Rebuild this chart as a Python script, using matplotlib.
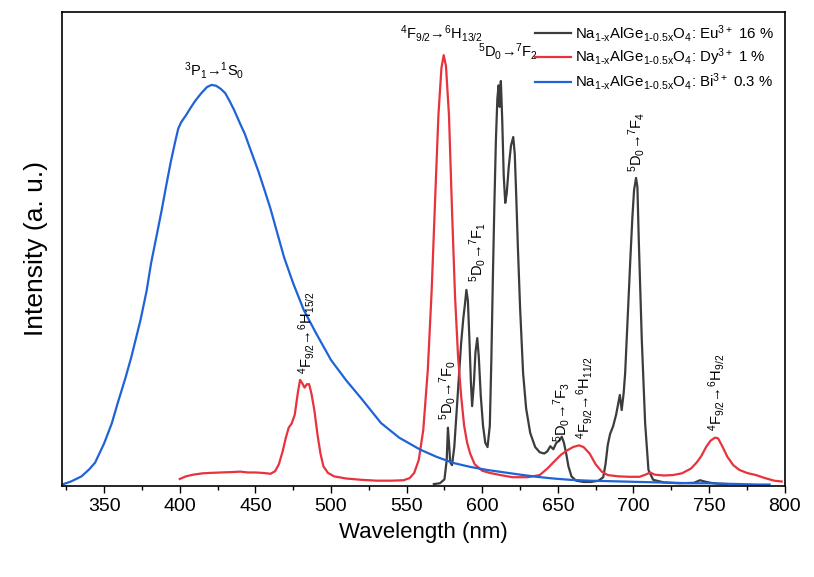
import numpy as np
import matplotlib
matplotlib.use("Agg")
import matplotlib.pyplot as plt
from matplotlib.ticker import MultipleLocator

plt.rcParams['font.family'] = ['Liberation Sans', 'DejaVu Sans']
plt.rcParams['mathtext.default'] = 'regular'

# Bi3+ emission (blue)
wl_bi = [323, 328, 335, 340, 344, 350, 355, 359, 364, 368, 374, 378, 381, 385, 388, 391,
         394, 397, 399, 401, 404, 407, 410, 414, 418, 421, 424, 427, 430, 433, 436, 440,
         443, 447, 452, 456, 460, 465, 469, 475, 482, 490, 500, 510, 520, 533, 545, 559,
         570, 581, 592, 603, 615, 625, 636, 647, 658, 670, 682, 693, 704, 716, 727, 738,
         749, 760, 771, 782, 790]
int_bi = [0.004, 0.010, 0.022, 0.038, 0.054, 0.099, 0.145, 0.193, 0.250, 0.300, 0.385, 0.452,
          0.517, 0.587, 0.640, 0.697, 0.752, 0.800, 0.830, 0.845, 0.860, 0.877, 0.893, 0.911,
          0.926, 0.931, 0.929, 0.922, 0.912, 0.893, 0.872, 0.840, 0.817, 0.778, 0.730, 0.687,
          0.643, 0.580, 0.530, 0.470, 0.408, 0.355, 0.292, 0.245, 0.203, 0.146, 0.112, 0.084,
          0.067, 0.053, 0.044, 0.037, 0.031, 0.026, 0.021, 0.017, 0.014, 0.012, 0.011, 0.010,
          0.009, 0.008, 0.007, 0.006, 0.006, 0.005, 0.004, 0.003, 0.003]

# Dy3+ emission (red)
wl_dy = [400, 404, 409, 415, 420, 427, 435, 440, 445, 450, 455, 460, 463, 465.5, 468, 470,
         472, 474, 476, 478, 479.5, 481, 482.5, 484, 485.5, 487, 489, 491, 493, 495, 498,
         502, 510, 520, 530, 540, 548, 552, 555, 558, 561, 564, 566.5, 569, 571, 573, 574.5,
         576, 578, 580, 582, 584, 586, 588, 590, 592, 595, 600, 605, 612, 620, 630, 638,
         643, 648, 652, 656, 660, 664, 667, 671, 675, 679, 683, 690, 697, 704, 708, 711,
         714, 720, 726, 732, 738, 742, 745, 748, 751, 754, 756, 759, 762, 766, 770, 775,
         781, 787, 793, 798]
int_dy = [0.016, 0.022, 0.026, 0.029, 0.030, 0.031, 0.032, 0.033, 0.031, 0.031, 0.030, 0.028,
          0.034, 0.050, 0.080, 0.110, 0.135, 0.145, 0.165, 0.215, 0.246, 0.238, 0.228, 0.236,
          0.236, 0.215, 0.175, 0.120, 0.075, 0.045, 0.030, 0.022, 0.017, 0.014, 0.012, 0.012,
          0.013, 0.018, 0.030, 0.060, 0.130, 0.270, 0.450, 0.680, 0.860, 0.970, 1.000, 0.975,
          0.860, 0.640, 0.440, 0.300, 0.210, 0.140, 0.100, 0.075, 0.050, 0.035, 0.030, 0.025,
          0.020, 0.020, 0.025, 0.040, 0.058, 0.072, 0.082, 0.090, 0.094, 0.090, 0.075, 0.050,
          0.033, 0.025, 0.022, 0.021, 0.021, 0.026, 0.031, 0.026, 0.024, 0.025, 0.029, 0.040,
          0.055, 0.070, 0.090, 0.105, 0.112, 0.110, 0.090, 0.068, 0.048, 0.037, 0.030, 0.025,
          0.018, 0.012, 0.010]

# Eu3+ emission (dark grey)
wl_eu = [568, 572, 575, 576.5, 577.3, 578, 578.8, 580, 581.5, 583, 584.5, 586, 587.5, 588.5,
         589.5, 590.5, 591.5, 592.5, 593.3, 594.5, 595.5, 596.7, 597.7, 599, 600.5, 602,
         603.5, 605, 606, 607, 608, 609, 610, 610.8, 611.5, 612.3, 613.2, 614.2, 615.2,
         616.2, 617.5, 619, 620.5, 621.5, 622.5, 623.5, 625, 627, 629, 631.7, 635, 638, 641,
         643, 645, 647, 649, 651, 652.6, 654, 655.5, 657, 659, 662, 667, 672, 677, 680,
         681.5, 683, 684.5, 686.5, 688.5, 691, 692.2, 693.5, 694.5, 696.5, 698, 699.3, 700.4,
         701.7, 702.6, 703.5, 705.5, 707.7, 709.9, 713, 720, 730, 740, 744, 747, 751, 756, 762]
int_eu = [0.004, 0.006, 0.015, 0.060, 0.135, 0.100, 0.055, 0.048, 0.090, 0.170, 0.250, 0.330,
          0.390, 0.420, 0.455, 0.430, 0.340, 0.240, 0.185, 0.240, 0.310, 0.343, 0.300, 0.210,
          0.140, 0.100, 0.090, 0.140, 0.290, 0.480, 0.650, 0.800, 0.900, 0.930, 0.880, 0.940,
          0.850, 0.720, 0.657, 0.680, 0.740, 0.790, 0.810, 0.770, 0.670, 0.560, 0.415, 0.262,
          0.180, 0.123, 0.090, 0.078, 0.075, 0.080, 0.092, 0.085, 0.100, 0.105, 0.114, 0.100,
          0.075, 0.045, 0.022, 0.012, 0.009, 0.009, 0.012, 0.020, 0.050, 0.095, 0.120, 0.138,
          0.165, 0.211, 0.176, 0.215, 0.262, 0.416, 0.532, 0.625, 0.687, 0.715, 0.694, 0.571,
          0.339, 0.146, 0.037, 0.014, 0.008, 0.006, 0.007, 0.013, 0.010, 0.007, 0.005, 0.004]

labels = [r'Na$_{1\text{-}x}$AlGe$_{1\text{-}0.5x}$O$_4$: Eu$^{3+}$ 16 %',
          r'Na$_{1\text{-}x}$AlGe$_{1\text{-}0.5x}$O$_4$: Dy$^{3+}$ 1 %',
          r'Na$_{1\text{-}x}$AlGe$_{1\text{-}0.5x}$O$_4$: Bi$^{3+}$ 0.3 %']

# transition labels: text, x, y, rotation
transitions = [
    (r'$^3$P$_1$→$^1$S$_0$', 423, 0.965, 0),
    (r'$^4$F$_{9/2}$→$^6$H$_{13/2}$', 573, 1.051, 0),
    (r'$^5$D$_0$→$^7$F$_2$', 617, 1.008, 0),
    (r'$^4$F$_{9/2}$→$^6$H$_{15/2}$', 484, 0.355, 90),
    (r'$^5$D$_0$→$^7$F$_0$', 577, 0.223, 90),
    (r'$^5$D$_0$→$^7$F$_1$', 596.8, 0.543, 90),
    (r'$^5$D$_0$→$^7$F$_3$', 652.3, 0.172, 90),
    (r'$^4$F$_{9/2}$→$^6$H$_{11/2}$', 667.3, 0.204, 90),
    (r'$^5$D$_0$→$^7$F$_4$', 702.3, 0.798, 90),
    (r'$^4$F$_{9/2}$→$^6$H$_{9/2}$', 755.1, 0.216, 90),
]

fig = plt.figure(figsize=(8.14, 5.77), dpi=100)
ax = fig.add_axes([0.076, 0.158, 0.888, 0.821])

ax.plot(wl_eu, int_eu, color='#3c3c3c', lw=1.6, label=labels[0])
ax.plot(wl_dy, int_dy, color='#e8323c', lw=1.6, label=labels[1])
ax.plot(wl_bi, int_bi, color='#1f63d6', lw=1.6, label=labels[2])

for txt, x, y, rot in transitions:
    ax.text(x, y, txt, rotation=rot, ha='center', va='center', fontsize=10.5)

ax.set_xlim(322, 800)
ax.set_ylim(0, 1.10)
ax.xaxis.set_major_locator(MultipleLocator(50))
ax.xaxis.set_minor_locator(MultipleLocator(25))
ax.tick_params(axis='x', which='both', direction='out', labelsize=14, width=1.0)
ax.tick_params(axis='x', which='major', length=5)
ax.tick_params(axis='x', which='minor', length=3)
ax.set_yticks([])
for s in ax.spines.values():
    s.set_linewidth(1.2)

ax.set_xlabel('Wavelength (nm)', fontsize=16, labelpad=5)
ax.set_ylabel('Intensity (a. u.)', fontsize=19, labelpad=10)

ax.legend(loc='upper right', frameon=False, fontsize=10.8, handlelength=2.4,
          handletextpad=0.3, labelspacing=0.2, borderaxespad=0.3)

fig.savefig('out.png', dpi=100)
